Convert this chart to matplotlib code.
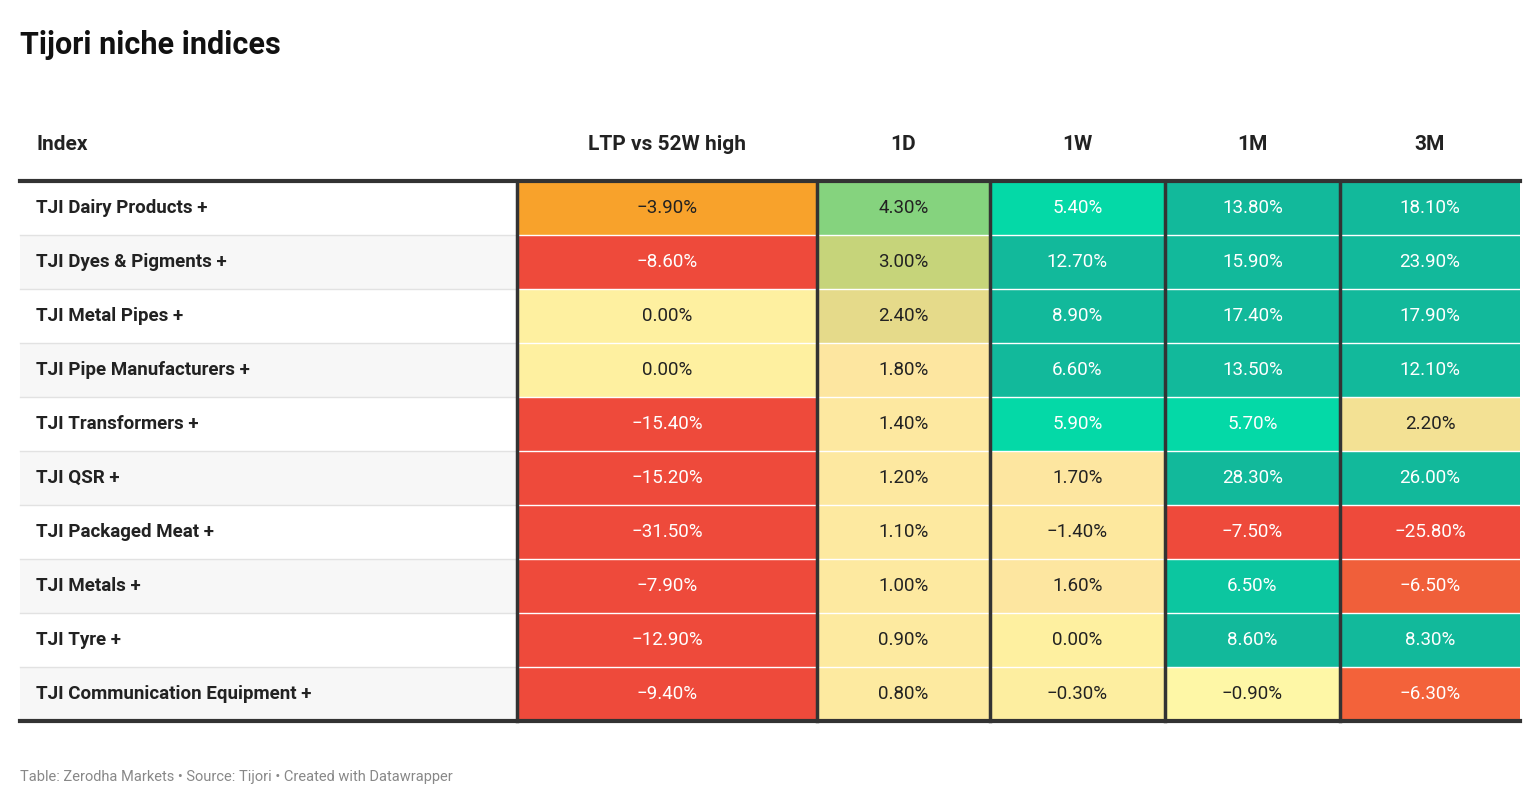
import matplotlib
matplotlib.use("Agg")
import matplotlib.pyplot as plt
from matplotlib.patches import Rectangle

indices = ["TJI Dairy Products +", "TJI Dyes & Pigments +", "TJI Metal Pipes +",
           "TJI Pipe Manufacturers +", "TJI Transformers +", "TJI QSR +",
           "TJI Packaged Meat +", "TJI Metals +", "TJI Tyre +",
           "TJI Communication Equipment +"]
columns = ["LTP vs 52W high", "1D", "1W", "1M", "3M"]
ltp = [-3.9, -8.6, 0.0, 0.0, -15.4, -15.2, -31.5, -7.9, -12.9, -9.4]
d1 = [4.3, 3.0, 2.4, 1.8, 1.4, 1.2, 1.1, 1.0, 0.9, 0.8]
w1 = [5.4, 12.7, 8.9, 6.6, 5.9, 1.7, -1.4, 1.6, 0.0, -0.3]
m1 = [13.8, 15.9, 17.4, 13.5, 5.7, 28.3, -7.5, 6.5, 8.6, -0.9]
m3 = [18.1, 23.9, 17.9, 12.1, 2.2, 26.0, -25.8, -6.5, 8.3, -6.3]
values = [ltp, d1, w1, m1, m3]

RED, TEAL, BTEAL, Y = "#ee4a3b", "#12b99b", "#04d9a7", "#fef0a0"
colors = [
    ["#f8a22b", RED, Y, Y, RED, RED, RED, RED, RED, RED],
    ["#85d37e", "#c6d47a", "#e5da8a", "#fde6a0", "#fde8a0", "#fde8a0", "#fde9a0", "#fde9a0", "#fdeaa0", "#fdeaa0"],
    [BTEAL, TEAL, TEAL, TEAL, BTEAL, "#fde6a0", "#fde89e", "#fde6a0", Y, "#fdeea0"],
    [TEAL, TEAL, TEAL, TEAL, BTEAL, TEAL, RED, "#0cc6a0", TEAL, "#fef7a6"],
    [TEAL, TEAL, TEAL, TEAL, "#f3e194", TEAL, RED, "#f05f3a", TEAL, "#f3623a"],
]
dark_bg = {RED, TEAL, BTEAL, "#0cc6a0", "#f05f3a", "#f3623a"}

FONT = "Roboto"
fig = plt.figure(figsize=(15.4, 8.1), dpi=100)
ax = fig.add_axes([0, 0, 1, 1])
ax.set_xlim(0, 1540); ax.set_ylim(810, 0); ax.axis("off")

ax.text(20, 45, "Tijori niche indices", fontsize=22, fontweight="bold", family=FONT,
        va="center", ha="left", color="#111")

edges = [517, 817, 990, 1165, 1340, 1520]
top, rh = 181, 54
ax.text(36, 144, "Index", fontsize=15, fontweight="bold", family=FONT, va="center", color="#222")
for j, c in enumerate(columns):
    ax.text((edges[j] + edges[j + 1]) / 2, 144, c, fontsize=15, fontweight="bold",
            family=FONT, va="center", ha="center", color="#222")

for i, name in enumerate(indices):
    y0 = top + i * rh
    ax.add_patch(Rectangle((20, y0), 497, rh, color="#ffffff" if i % 2 == 0 else "#f7f7f7", lw=0))
    if i > 0:
        ax.plot([20, 517], [y0, y0], color="#e2e2e2", lw=1)
    ax.text(36, y0 + rh / 2, name, fontsize=13.5, fontweight="bold", family=FONT,
            va="center", color="#222")
    for j in range(5):
        col = colors[j][i]
        ax.add_patch(Rectangle((edges[j], y0), edges[j + 1] - edges[j], rh, color=col, lw=0))
        if i > 0:
            ax.plot([edges[j], edges[j + 1]], [y0, y0], color="white", lw=1)
        v = values[j][i]
        s = f"{v:.2f}%".replace("-", "\u2212")
        ax.text((edges[j] + edges[j + 1]) / 2, y0 + rh / 2, s, fontsize=13.5, family=FONT,
                va="center", ha="center", color="white" if col in dark_bg else "#222")

bottom = top + 10 * rh
for x in edges[:-1]:
    ax.plot([x, x], [top, bottom], color="#333", lw=2.5)
ax.plot([20, 1520], [top, top], color="#333", lw=3)
ax.plot([20, 1520], [bottom, bottom], color="#333", lw=3)

ax.text(20, 777, "Table: Zerodha Markets \u2022 Source: Tijori \u2022 Created with Datawrapper",
        fontsize=10.5, family=FONT, va="center", color="#888")
fig.savefig("out.png", dpi=100)
